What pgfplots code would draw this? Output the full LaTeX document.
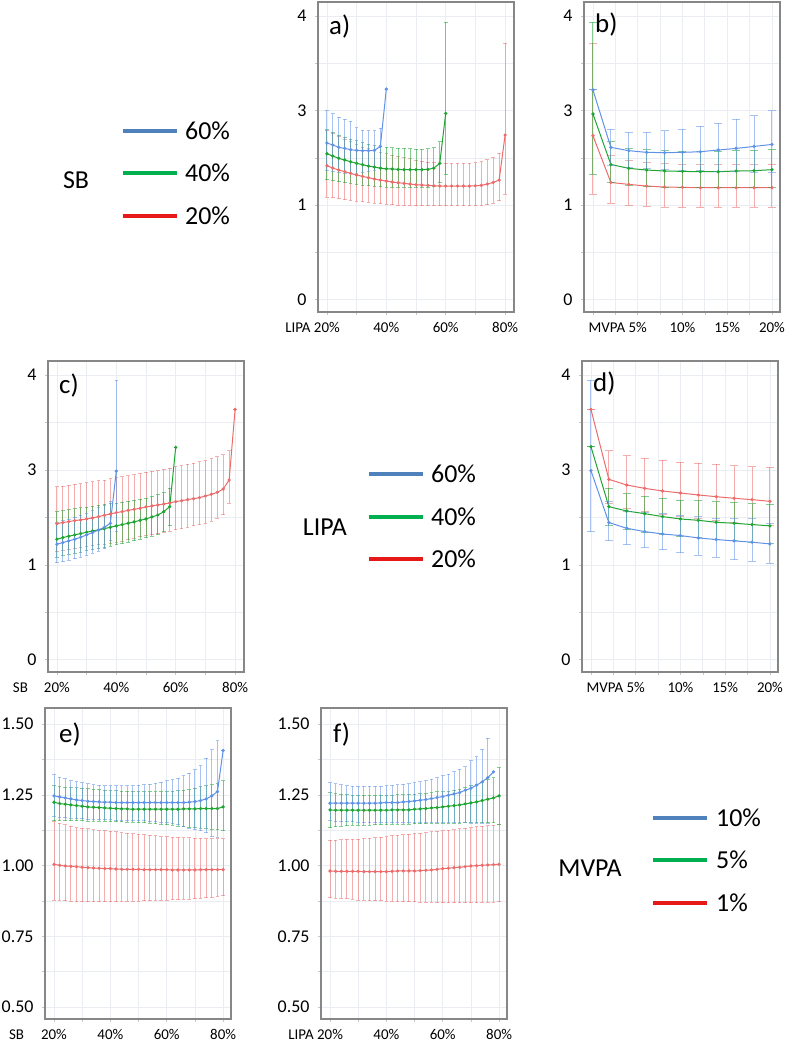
\documentclass[border=0pt]{standalone}
\usepackage{fontspec}
\setmainfont{Carlito}
\usepackage{pgfplots}
\usepackage{pgfplotstable}
\pgfplotsset{compat=1.18}

\definecolor{cB}{RGB}{96,146,232}
\definecolor{cG}{RGB}{30,165,50}
\definecolor{cR}{RGB}{236,108,108}
\definecolor{legB}{RGB}{79,129,189}
\definecolor{legG}{RGB}{0,176,80}
\definecolor{legR}{RGB}{230,25,25}
\definecolor{boxc}{RGB}{135,135,135}
\definecolor{gridc}{RGB}{234,237,241}

% ---------------- panel a : x = LIPA %, series SB ----------------
\pgfplotstableread{
x y lo hi
20 1.658 1.37 2.007
22 1.637 1.36 1.965
24 1.612 1.35 1.93
26 1.601 1.34 1.91
28 1.587 1.34 1.886
30 1.580 1.34 1.82
32 1.577 1.35 1.795
34 1.577 1.36 1.788
36 1.580 1.37 1.788
38 1.622 1.40 1.813
40 2.229 2.229 2.229
}\aB
\pgfplotstableread{
x y lo hi
20 1.545 1.27 1.80
22 1.520 1.26 1.77
24 1.496 1.25 1.74
26 1.478 1.24 1.72
28 1.460 1.23 1.70
30 1.443 1.22 1.68
32 1.429 1.21 1.66
34 1.414 1.205 1.645
36 1.403 1.20 1.63
38 1.392 1.195 1.62
40 1.385 1.19 1.615
42 1.383 1.19 1.61
44 1.379 1.19 1.605
46 1.376 1.19 1.60
48 1.376 1.19 1.595
50 1.376 1.19 1.59
52 1.376 1.19 1.59
54 1.379 1.19 1.595
56 1.392 1.20 1.61
58 1.443 1.24 1.67
60 1.971 1.33 2.935
}\aG
\pgfplotstableread{
x y lo hi
20 1.418 1.085 1.79
22 1.393 1.08 1.76
24 1.372 1.07 1.73
26 1.355 1.06 1.70
28 1.337 1.05 1.67
30 1.319 1.04 1.64
32 1.305 1.035 1.615
34 1.291 1.03 1.595
36 1.277 1.02 1.575
38 1.266 1.015 1.56
40 1.256 1.01 1.545
42 1.245 1.005 1.53
44 1.238 1.00 1.515
46 1.231 1.00 1.50
48 1.224 0.998 1.49
50 1.217 0.995 1.475
52 1.213 0.995 1.465
54 1.210 0.995 1.455
56 1.206 0.995 1.45
58 1.203 0.995 1.443
60 1.203 0.995 1.443
62 1.203 0.995 1.443
64 1.203 0.995 1.443
66 1.203 0.995 1.443
68 1.203 0.995 1.445
70 1.206 0.995 1.45
72 1.210 0.998 1.46
74 1.224 1.005 1.48
76 1.241 1.023 1.50
78 1.266 1.048 1.548
80 1.743 1.118 2.713
}\aR
% ---------------- panel b : x = MVPA %, series SB ----------------
\pgfplotstableread{
x y lo hi
0 2.219 2.219 2.219
2 1.612 1.42 1.806
4 1.577 1.40 1.771
6 1.559 1.385 1.771
8 1.556 1.375 1.788
10 1.559 1.37 1.806
12 1.566 1.365 1.834
14 1.584 1.36 1.866
16 1.601 1.355 1.908
18 1.622 1.35 1.947
20 1.643 1.345 2.0
}\bB
\pgfplotstableread{
x y lo hi
0 1.965 1.33 2.935
2 1.431 1.235 1.67
4 1.390 1.206 1.60
6 1.372 1.195 1.585
8 1.362 1.19 1.575
10 1.358 1.19 1.57
12 1.354 1.19 1.57
14 1.354 1.19 1.57
16 1.362 1.19 1.575
18 1.365 1.19 1.58
20 1.376 1.19 1.59
}\bG
\pgfplotstableread{
x y lo hi
0 1.735 1.118 2.713
2 1.241 1.023 1.531
4 1.220 1.002 1.471
6 1.203 0.991 1.447
8 1.192 0.981 1.436
10 1.189 0.981 1.429
12 1.185 0.981 1.429
14 1.185 0.981 1.429
16 1.185 0.981 1.429
18 1.185 0.981 1.429
20 1.185 0.981 1.429
}\bR
% ---------------- panel c : x = SB %, series LIPA ----------------
\pgfplotstableread{
x y lo hi
20 1.218 1.02 1.45
22 1.235 1.035 1.465
24 1.253 1.05 1.48
26 1.270 1.065 1.50
28 1.291 1.08 1.52
30 1.316 1.10 1.545
32 1.340 1.12 1.57
34 1.368 1.145 1.60
36 1.397 1.17 1.63
38 1.439 1.256 1.67
40 1.989 1.351 2.947
}\cB
\pgfplotstableread{
x y lo hi
20 1.270 1.08 1.56
22 1.288 1.095 1.57
24 1.302 1.11 1.58
26 1.316 1.12 1.59
28 1.330 1.135 1.60
30 1.344 1.15 1.61
32 1.358 1.16 1.62
34 1.368 1.17 1.63
36 1.382 1.18 1.64
38 1.396 1.195 1.645
40 1.411 1.21 1.65
42 1.425 1.225 1.66
44 1.439 1.24 1.67
46 1.453 1.255 1.68
48 1.470 1.27 1.69
50 1.484 1.285 1.70
52 1.505 1.30 1.72
54 1.526 1.32 1.74
56 1.561 1.35 1.76
58 1.614 1.41 1.807
60 2.239 2.239 2.239
}\cG
\pgfplotstableread{
x y lo hi
20 1.435 1.14 1.825
22 1.446 1.15 1.83
24 1.456 1.16 1.84
26 1.467 1.17 1.85
28 1.474 1.18 1.855
30 1.484 1.19 1.865
32 1.495 1.20 1.875
34 1.509 1.21 1.885
36 1.523 1.22 1.895
38 1.537 1.225 1.91
40 1.551 1.235 1.92
42 1.561 1.25 1.93
44 1.575 1.265 1.94
46 1.586 1.28 1.95
48 1.596 1.295 1.96
50 1.611 1.31 1.975
52 1.621 1.32 1.985
54 1.632 1.33 1.995
56 1.642 1.345 2.01
58 1.653 1.355 2.02
60 1.667 1.368 2.035
62 1.677 1.38 2.045
64 1.688 1.395 2.06
66 1.698 1.41 2.07
68 1.709 1.425 2.085
70 1.726 1.44 2.10
72 1.744 1.46 2.12
74 1.765 1.49 2.14
76 1.800 1.53 2.16
78 1.895 1.649 2.204
80 2.639 2.639 2.639
}\cR
% ---------------- panel d : x = MVPA %, series LIPA ----------------
\pgfplotstableread{
x y lo hi
0 1.993 1.351 2.947
2 1.446 1.256 1.67
4 1.386 1.211 1.561
6 1.351 1.182 1.551
8 1.326 1.158 1.54
10 1.309 1.130 1.525
12 1.284 1.102 1.51
14 1.267 1.081 1.49
16 1.253 1.056 1.49
18 1.239 1.039 1.485
20 1.221 1.018 1.44
}\dB
\pgfplotstableread{
x y lo hi
0 2.246 2.246 2.246
2 1.614 1.41 1.807
4 1.568 1.37 1.751
6 1.540 1.345 1.726
8 1.509 1.32 1.702
10 1.484 1.30 1.684
12 1.470 1.285 1.681
14 1.449 1.265 1.663
16 1.439 1.255 1.660
18 1.425 1.24 1.646
20 1.411 1.23 1.64
}\dG
\pgfplotstableread{
x y lo hi
0 2.639 2.639 2.639
2 1.902 1.649 2.204
4 1.842 1.59 2.151
6 1.807 1.56 2.123
8 1.779 1.53 2.102
10 1.758 1.51 2.081
12 1.737 1.49 2.07
14 1.719 1.47 2.06
16 1.702 1.45 2.046
18 1.688 1.43 2.035
20 1.670 1.41 2.028
}\dR
% ---------------- panel e : x = SB %, series MVPA ----------------
\pgfplotstableread{
x y lo hi
20 1.2465 1.1733 1.3208
22 1.2429 1.171 1.3125
24 1.2394 1.1686 1.3066
26 1.2358 1.167 1.3007
28 1.2323 1.166 1.2972
30 1.2300 1.165 1.2925
32 1.2276 1.164 1.2889
34 1.2264 1.163 1.2854
36 1.2252 1.162 1.2842
38 1.2241 1.1616 1.2830
40 1.2241 1.1616 1.2830
42 1.2229 1.161 1.2830
44 1.2229 1.160 1.2830
46 1.2229 1.1595 1.2830
48 1.2229 1.1592 1.2830
50 1.2229 1.1592 1.2842
52 1.2229 1.158 1.2854
54 1.2229 1.1557 1.2877
56 1.2229 1.1557 1.2913
58 1.2229 1.154 1.2948
60 1.2229 1.152 1.2995
62 1.2229 1.1486 1.3031
64 1.2229 1.1439 1.3090
66 1.2229 1.139 1.3172
68 1.2241 1.132 1.3267
70 1.2264 1.1274 1.3384
72 1.2300 1.1226 1.3538
74 1.2358 1.1156 1.3797
76 1.2465 1.1026 1.4092
78 1.2618 1.100 1.442
80 1.4068 1.4068 1.4068
}\eB
\pgfplotstableread{
x y lo hi
20 1.2241 1.1592 1.2818
22 1.2193 1.159 1.279
24 1.2170 1.1588 1.277
26 1.2146 1.1585 1.275
28 1.2123 1.1582 1.2745
30 1.2099 1.158 1.2736
32 1.2075 1.1575 1.272
34 1.2064 1.157 1.270
36 1.2052 1.1565 1.268
38 1.2040 1.156 1.2665
40 1.2028 1.1557 1.2653
42 1.2017 1.155 1.264
44 1.2005 1.1545 1.263
46 1.2005 1.154 1.2625
48 1.1993 1.153 1.262
50 1.1993 1.152 1.2618
52 1.1993 1.151 1.2618
54 1.1993 1.149 1.2618
56 1.1993 1.148 1.2618
58 1.1993 1.146 1.2618
60 1.1993 1.1439 1.2618
62 1.1993 1.142 1.263
64 1.1993 1.140 1.2645
66 1.2005 1.138 1.266
68 1.2005 1.136 1.269
70 1.2005 1.1344 1.2736
72 1.2017 1.132 1.278
74 1.2017 1.1305 1.2818
76 1.2017 1.1285 1.285
78 1.2017 1.127 1.289
80 1.2075 1.1226 1.2995
}\eG
\pgfplotstableread{
x y lo hi
20 1.0047 0.8785 1.1557
22 1.0012 0.877 1.1498
24 0.9988 0.8755 1.1439
26 0.9976 0.874 1.1392
28 0.9965 0.873 1.1344
30 0.9941 0.8726 1.1320
32 0.9929 0.8726 1.1297
34 0.9917 0.8726 1.1262
36 0.9906 0.8726 1.1240
38 0.9894 0.8726 1.1226
40 0.9894 0.8726 1.1210
42 0.9882 0.873 1.1191
44 0.9870 0.8735 1.1170
46 0.9870 0.874 1.1144
48 0.9870 0.8745 1.1126
50 0.9870 0.875 1.1108
52 0.9858 0.8755 1.1090
54 0.9858 0.876 1.1073
56 0.9858 0.877 1.1050
58 0.9858 0.878 1.1026
60 0.9858 0.8785 1.1026
62 0.9847 0.8795 1.1010
64 0.9847 0.880 1.1002
66 0.9847 0.881 1.0990
68 0.9847 0.882 1.0979
70 0.9847 0.8835 1.0967
72 0.9858 0.885 1.0960
74 0.9858 0.887 1.0955
76 0.9858 0.889 1.0950
78 0.9858 0.891 1.0945
80 0.9858 0.8939 1.0943
}\eR
% ---------------- panel f : x = LIPA %, series MVPA ----------------
\pgfplotstableread{
x y lo hi
20 1.2205 1.158 1.2936
22 1.2205 1.1545 1.2901
24 1.2205 1.1545 1.2854
26 1.2205 1.1545 1.2818
28 1.2205 1.1545 1.2807
30 1.2205 1.1521 1.2807
32 1.2205 1.1521 1.2807
34 1.2205 1.1521 1.2807
36 1.2205 1.1521 1.2807
38 1.2217 1.1521 1.2807
40 1.2229 1.1521 1.2818
42 1.2229 1.1521 1.2842
44 1.2229 1.1521 1.2854
46 1.2252 1.1521 1.2877
48 1.2264 1.1521 1.2901
50 1.2288 1.1521 1.2936
52 1.2311 1.1521 1.2972
54 1.2335 1.1521 1.3007
56 1.2370 1.1521 1.3054
58 1.2406 1.1521 1.3113
60 1.2441 1.1521 1.3172
62 1.2488 1.1521 1.3231
64 1.2535 1.1521 1.3314
66 1.2583 1.1521 1.3408
68 1.2665 1.1510 1.3502
70 1.2736 1.1505 1.3703
72 1.2842 1.1500 1.3856
74 1.2960 1.1498 1.4116
76 1.3113 1.1498 1.4493
78 1.3314 1.3314 1.3314
}\fB
\pgfplotstableread{
x y lo hi
20 1.1969 1.1344 1.2583
22 1.1958 1.138 1.2547
24 1.1958 1.1395 1.252
26 1.1958 1.141 1.25
28 1.1958 1.142 1.249
30 1.1958 1.1427 1.2488
32 1.1958 1.143 1.2488
34 1.1958 1.1435 1.2488
36 1.1958 1.144 1.2488
38 1.1958 1.1445 1.2488
40 1.1958 1.145 1.2488
42 1.1969 1.1455 1.2495
44 1.1969 1.146 1.25
46 1.1969 1.1465 1.251
48 1.1969 1.147 1.2515
50 1.1993 1.1474 1.2524
52 1.2005 1.148 1.254
54 1.2017 1.1485 1.256
56 1.2040 1.149 1.258
58 1.2052 1.149 1.2605
60 1.2075 1.1497 1.2606
62 1.2099 1.150 1.263
64 1.2123 1.150 1.266
66 1.2146 1.1505 1.270
68 1.2182 1.151 1.275
70 1.2217 1.1509 1.2818
72 1.2252 1.151 1.288
74 1.2300 1.151 1.295
76 1.2347 1.1509 1.3030
78 1.2394 1.151 1.31
80 1.2465 1.1462 1.3467
}\fG
\pgfplotstableread{
x y lo hi
20 0.9811 0.8868 1.0896
22 0.9800 0.8855 1.0905
24 0.9800 0.8845 1.0915
26 0.9800 0.883 1.0925
28 0.9800 0.881 1.0932
30 0.9800 0.8785 1.0932
32 0.9788 0.8775 1.0945
34 0.9788 0.8765 1.096
36 0.9788 0.876 1.0979
38 0.9788 0.8755 1.100
40 0.9788 0.875 1.1026
42 0.9800 0.874 1.1050
44 0.9811 0.873 1.1073
46 0.9811 0.8725 1.109
48 0.9811 0.872 1.1108
50 0.9811 0.8715 1.1130
52 0.9823 0.871 1.1150
54 0.9835 0.8705 1.1167
56 0.9847 0.870 1.119
58 0.9870 0.8695 1.1208
60 0.9894 0.8691 1.1226
62 0.9906 0.8691 1.1250
64 0.9929 0.8691 1.1275
66 0.9941 0.8691 1.1300
68 0.9965 0.8691 1.1320
70 0.9988 0.8691 1.1344
72 1.0000 0.8695 1.1370
74 1.0012 0.870 1.1390
76 1.0024 0.8705 1.1403
78 1.0035 0.871 1.1430
80 1.0047 0.8715 1.1462
}\fR

\pgfplotsset{
  panel/.style={scale only axis, anchor=north west,
    axis line style={draw=boxc, line width=1.3bp},
    grid=both,
    major grid style={draw=gridc, line width=0.7bp},
    minor grid style={draw=gridc, line width=0.7bp},
    tick align=outside, major tick length=3bp, minor tick length=3bp,
    tick style={draw=gray!45, line width=0.6bp},
    xtick pos=lower, ytick pos=left,
    yticklabel style={font=\fontsize{18}{18}\selectfont, xshift=-5bp},
    xticklabel style={font=\fontsize{15}{15}\selectfont, yshift=-4bp}},
  rowU/.style={ymin=-0.13, ymax=3.15, ytick={0,1,2,3}, yticklabels={0,1,3,4}, minor ytick={0.5,1.5,2.5}},
  rowV/.style={ymin=0.458, ymax=1.557, ytick={0.5,0.75,1,1.25,1.5}, yticklabels={0.50,0.75,1.00,1.25,1.50}, minor ytick={0.625,0.875,1.125,1.375}},
  pctx/.style={xmin=17, xmax=83, xtick={20,40,60,80}, minor xtick={30,50,70}},
  mvx/.style={xmin=-1, xmax=20.9, xtick={5,10,15,20}, minor xtick={0,2.5,7.5,12.5,17.5},
    xticklabels={\makebox[0pt][r]{MVPA\ }5\%,10\%,15\%,20\%}},
  bars/.style 2 args={draw=none, mark=none,
    error bars/.cd, y dir=both, y explicit, error mark=-,
    error bar style={draw=#1, line width=1bp, opacity=0.55},
    error mark options={rotate=90, draw=#1, mark size=#2, line width=1bp, opacity=0.55}},
  ln/.style={draw=#1, line width=1bp, mark=*, mark size=1.1bp, mark options={draw=#1, fill=#1}},
}
% #1 colour, #2 cap half-width, #3 table, #4 row index that has no error bar
\newcommand{\ep}[4]{%
\addplot[skip coords between index={#4}{#4.5}, bars={#1}{#2}] table[x=x, y=y, y error plus expr=\thisrow{hi}-\thisrow{y}, y error minus expr=\thisrow{y}-\thisrow{lo}] {#3};
\addplot[ln=#1] table[x=x, y=y] {#3};}

\begin{document}
\begin{tikzpicture}
\path[use as bounding box] (0bp,0bp) rectangle (790bp,-1045bp);

% a
\begin{axis}[panel, rowU, pctx, at={(318bp,-2bp)}, width=196bp, height=310bp,
  xticklabels={\makebox[0pt][r]{LIPA\ }20\%,40\%,60\%,80\%}]
\ep{cR}{1.8bp}{\aR}{99}
\ep{cG}{1.8bp}{\aG}{99}
\ep{cB}{1.8bp}{\aB}{10}
\end{axis}
% b
\begin{axis}[panel, rowU, mvx, at={(584bp,-2bp)}, width=196bp, height=310bp]
\ep{cR}{4bp}{\bR}{99}
\ep{cG}{4bp}{\bG}{99}
\ep{cB}{4bp}{\bB}{0}
\end{axis}
% c
\begin{axis}[panel, rowU, pctx, at={(48bp,-361bp)}, width=196bp, height=311bp,
  xticklabels={\makebox[0pt][r]{SB\hspace{16bp}}20\%,40\%,60\%,80\%}]
\ep{cR}{1.8bp}{\cR}{30}
\ep{cG}{1.8bp}{\cG}{20}
\ep{cB}{1.8bp}{\cB}{99}
\end{axis}
% d
\begin{axis}[panel, rowU, mvx, at={(582bp,-361bp)}, width=196bp, height=311bp]
\ep{cR}{4bp}{\dR}{0}
\ep{cG}{4bp}{\dG}{0}
\ep{cB}{4bp}{\dB}{99}
\end{axis}
% e
\begin{axis}[panel, rowV, xmin=16.8, xmax=82.8, xtick={20,40,60,80}, minor xtick={30,50,70},
  at={(45bp,-708bp)}, width=186bp, height=311bp,
  xticklabels={\makebox[0pt][r]{SB\hspace{17bp}}20\%,40\%,60\%,80\%}]
\ep{cR}{1.8bp}{\eR}{99}
\ep{cG}{1.8bp}{\eG}{99}
\ep{cB}{1.8bp}{\eB}{30}
\end{axis}
% f
\begin{axis}[panel, rowV, xmin=16.8, xmax=82.8, xtick={20,40,60,80}, minor xtick={30,50,70},
  at={(321bp,-708bp)}, width=186bp, height=311bp,
  xticklabels={\makebox[0pt][r]{LIPA\ }20\%,40\%,60\%,80\%}]
\ep{cR}{1.8bp}{\fR}{99}
\ep{cG}{1.8bp}{\fG}{99}
\ep{cB}{1.8bp}{\fB}{29}
\end{axis}

% panel letters
\begin{scope}[every node/.style={font=\fontsize{27}{27}\selectfont, anchor=west, inner sep=0pt}]
\node at (329bp,-27bp) {a)};
\node at (595bp,-25bp) {b)};
\node at (59bp,-386bp) {c)};
\node at (593bp,-384bp) {d)};
\node at (59bp,-735bp) {e)};
\node at (333bp,-735bp) {f)};
\end{scope}

% legends
\begin{scope}[every node/.style={font=\fontsize{26}{26}\selectfont, inner sep=0pt}]
\draw[legB, line width=3.5bp] (123bp,-131bp) -- (177bp,-131bp);
\draw[legG, line width=3.5bp] (123bp,-173bp) -- (177bp,-173bp);
\draw[legR, line width=3.5bp] (123bp,-216bp) -- (177bp,-216bp);
\node[anchor=west] at (185bp,-131bp) {60\%};
\node[anchor=west] at (185bp,-173bp) {40\%};
\node[anchor=west] at (185bp,-216bp) {20\%};
\node at (76bp,-180bp) {SB};

\draw[legB, line width=3.5bp] (369bp,-474bp) -- (423bp,-474bp);
\draw[legG, line width=3.5bp] (369bp,-517bp) -- (423bp,-517bp);
\draw[legR, line width=3.5bp] (369bp,-559bp) -- (423bp,-559bp);
\node[anchor=west] at (431bp,-474bp) {60\%};
\node[anchor=west] at (431bp,-517bp) {40\%};
\node[anchor=west] at (431bp,-559bp) {20\%};
\node[anchor=east] at (347bp,-527bp) {LIPA};

\draw[legB, line width=3.5bp] (653bp,-818bp) -- (707bp,-818bp);
\draw[legG, line width=3.5bp] (653bp,-860bp) -- (707bp,-860bp);
\draw[legR, line width=3.5bp] (653bp,-903bp) -- (707bp,-903bp);
\node[anchor=west] at (716bp,-818bp) {10\%};
\node[anchor=west] at (716bp,-860bp) {5\%};
\node[anchor=west] at (716bp,-903bp) {1\%};
\node at (590bp,-868bp) {MVPA};
\end{scope}
\end{tikzpicture}
\end{document}
